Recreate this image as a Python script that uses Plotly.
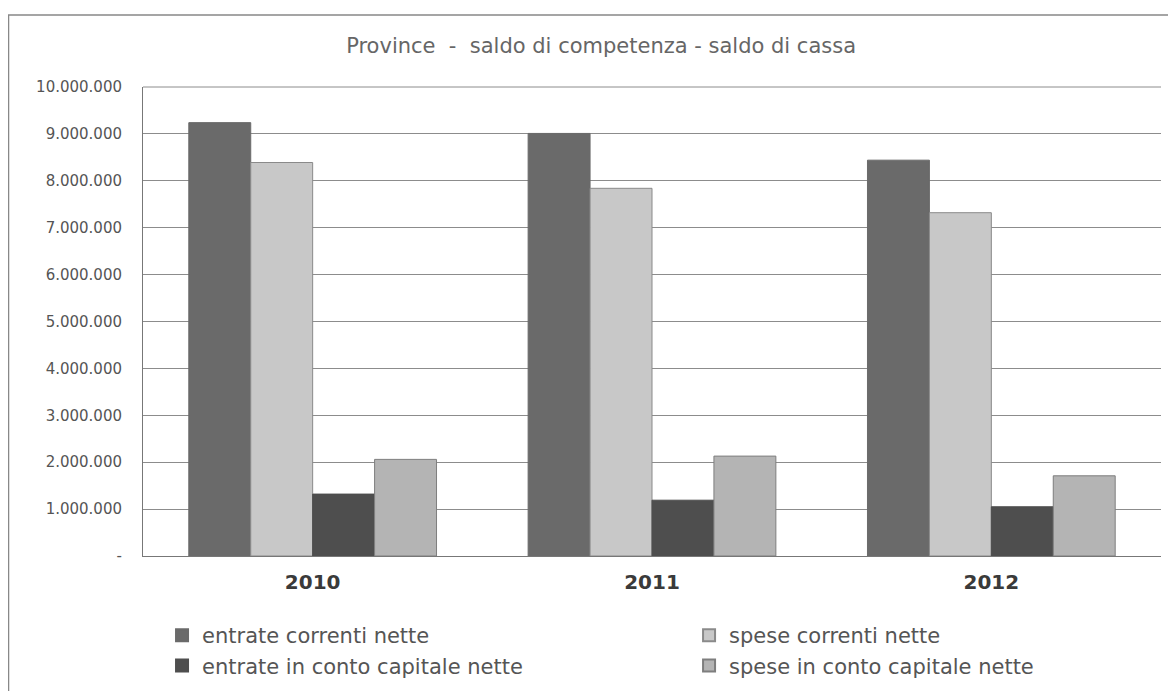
import plotly.graph_objects as go

years = ["2010", "2011", "2012"]
series_names = [
    "entrate correnti nette",
    "spese correnti nette",
    "entrate in conto capitale nette",
    "spese in conto capitale nette",
]
entrate_correnti = [9240000, 9010000, 8440000]
spese_correnti = [8390000, 7840000, 7320000]
entrate_capitale = [1320000, 1190000, 1050000]
spese_capitale = [2060000, 2130000, 1710000]

y_tickvals = [0, 1000000, 2000000, 3000000, 4000000, 5000000,
              6000000, 7000000, 8000000, 9000000, 10000000]
y_ticktext = ["-", "1.000.000", "2.000.000", "3.000.000", "4.000.000",
              "5.000.000", "6.000.000", "7.000.000", "8.000.000",
              "9.000.000", "10.000.000"]

colors = ["#6a6a6a", "#c8c8c8", "#4e4e4e", "#b4b4b4"]
outlines = ["#6a6a6a", "#8a8a8a", "#4e4e4e", "#7e7e7e"]
legend_ids = ["legend", "legend2", "legend", "legend2"]
values = [entrate_correnti, spese_correnti, entrate_capitale, spese_capitale]

fig = go.Figure()
for name, vals, c, oc, lg in zip(series_names, values, colors, outlines, legend_ids):
    fig.add_trace(go.Bar(
        x=years, y=vals, name=name, legend=lg,
        marker=dict(color=c, line=dict(color=oc, width=1)),
    ))

FONT = "DejaVu Sans"
legend_common = dict(
    orientation="v", y=-0.126, yanchor="top",
    font=dict(family=FONT, size=21, color="#555555"),
    itemsizing="constant", tracegroupgap=0, traceorder="normal",
    bgcolor="rgba(0,0,0,0)",
)
fig.update_layout(
    width=1168, height=683,
    paper_bgcolor="white", plot_bgcolor="white",
    margin=dict(l=135, r=15, t=79, b=135, autoexpand=False),
    barmode="group", bargap=0.27, bargroupgap=0,
    font=dict(family=FONT, color="#555555"),
    title=dict(
        text="Province  -  saldo di competenza - saldo di cassa",
        x=0.45, xanchor="center", xref="paper",
        y=1 - 38 / 683, yref="container", yanchor="middle",
        font=dict(family=FONT, size=21, color="#666666"),
    ),
    showlegend=True,
    legend=dict(x=0.0187, xanchor="left", **legend_common),
    legend2=dict(x=0.5364, xanchor="left", **legend_common),
    xaxis=dict(
        showline=True, linecolor="#777777", linewidth=1,
        showgrid=False, ticks="", ticklabelstandoff=8,
        tickfont=dict(family=FONT, size=20, color="#3a3a3a", weight="bold"),
    ),
    yaxis=dict(
        range=[0, 10000000], tickvals=y_tickvals, ticktext=y_ticktext,
        showline=True, linecolor="#777777", linewidth=1,
        showgrid=True, gridcolor="#8c8c8c", gridwidth=1,
        zeroline=False, ticks="", ticklabelstandoff=17,
        tickfont=dict(family=FONT, size=15, color="#555555"),
    ),
    shapes=[
        dict(type="rect", xref="paper", yref="paper",
             x0=-0.1321, x1=1.1, y0=-0.4, y1=1.1535,
             line=dict(color="#888888", width=1.5), layer="below"),
        dict(type="line", xref="paper", yref="paper",
             x0=0, x1=1, y0=1, y1=1,
             line=dict(color="#8c8c8c", width=1)),
    ],
)

fig.write_html("out.html")
